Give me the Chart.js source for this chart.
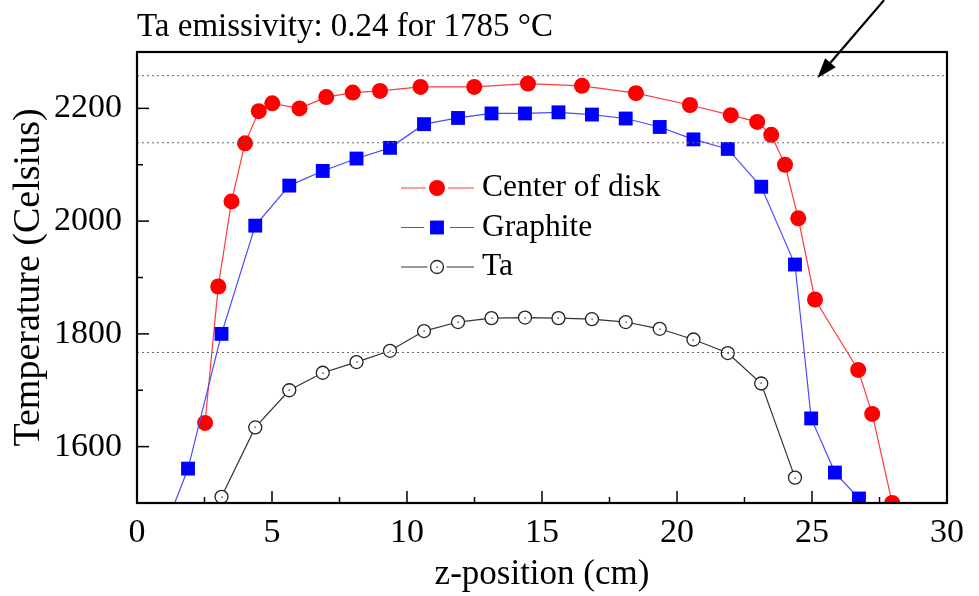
<!DOCTYPE html>
<html>
<head>
<meta charset="utf-8">
<script src="https://cdn.jsdelivr.net/npm/chart.js@4.4.1/dist/chart.umd.min.js"></script>
<style>
  html, body { margin: 0; padding: 0; background: #ffffff; }
  #wrap { width: 979px; height: 596px; }
</style>
</head>
<body>
<div id="wrap"><canvas id="c" width="979" height="596"></canvas></div>
<script>
// ---------------- data ----------------
const chartTitle = 'Ta emissivity: 0.24 for 1785 \u00B0C';
const xTitle = 'z-position (cm)';
const yTitle = 'Temperature (Celsius)';
const seriesLabels = ['Center of disk', 'Graphite', 'Ta'];

const centerX = [2.52, 3.01, 3.50, 4.00, 4.51, 5.01, 6.02, 7.01, 7.99, 9.00, 10.50, 12.49, 14.48,
                 16.48, 18.48, 20.48, 21.99, 22.97, 23.49, 24.00, 24.49, 25.11, 26.71, 27.23, 27.97];
const centerY = [1642, 1884, 2035, 2138, 2195, 2209, 2200, 2220, 2228, 2231, 2238, 2238, 2244,
                 2240, 2227, 2206, 2188, 2176, 2153, 2100, 2005, 1861, 1736, 1658, 1500];

const graphiteX = [1.00, 1.89, 3.13, 4.38, 5.64, 6.88, 8.13, 9.37, 10.63, 11.89, 13.13, 14.37,
                   15.61, 16.85, 18.10, 19.36, 20.61, 21.88, 23.12, 24.37, 24.97, 25.85, 26.74];
const graphiteY = [1451, 1561, 1800, 1992, 2063, 2089, 2111, 2130, 2172, 2183, 2191, 2191,
                   2193, 2189, 2182, 2167, 2145, 2128, 2061, 1923, 1650, 1554, 1508];

const taX = [3.13, 4.38, 5.64, 6.88, 8.13, 9.37, 10.63, 11.89, 13.13, 14.37,
             15.61, 16.85, 18.10, 19.36, 20.61, 21.88, 23.12, 24.37];
const taY = [1511, 1634, 1700, 1731, 1750, 1770, 1805, 1821, 1828, 1829,
             1828, 1826, 1821, 1809, 1790, 1766, 1712, 1545];

const refLevels = [2258, 2139, 1767];          // dotted horizontal reference lines
const xRange = [0, 30];
const yRange = [1500, 2300];
const xLabelTicks = [0, 5, 10, 15, 20, 25, 30];
const yLabelTicks = [1600, 1800, 2000, 2200];
const arrowFrom = [27.67, 2392];                // annotation arrow (data units)
const arrowTo = [25.20, 2254];

// ---------------- chart ----------------
const FONT = "'Liberation Serif', 'Times New Roman', serif";
Chart.defaults.font.family = FONT;
Chart.defaults.color = '#000';

const pts = (xs, ys) => xs.map((x, i) => ({x: x, y: ys[i]}));

const datasets = [
  {label: seriesLabels[0], data: pts(centerX, centerY), borderColor: '#ff3b3b', borderWidth: 1.2,
   pointStyle: 'circle', pointRadius: 8, pointBackgroundColor: '#ff0000', pointBorderColor: '#ff0000', pointBorderWidth: 0},
  {label: seriesLabels[1], data: pts(graphiteX, graphiteY), borderColor: '#4a4aff', borderWidth: 1.2,
   pointStyle: 'rect', pointRadius: 9.8, pointBackgroundColor: '#0000ff', pointBorderColor: '#0000ff', pointBorderWidth: 0},
  {label: seriesLabels[2], data: pts(taX, taY), borderColor: '#333333', borderWidth: 1.2,
   pointStyle: 'circle', pointRadius: 6.5, pointBackgroundColor: '#ffffff', pointBorderColor: '#222222', pointBorderWidth: 1.3}
];
refLevels.forEach(v => datasets.push({
  label: '', data: [{x: xRange[0], y: v}, {x: xRange[1], y: v}], borderColor: '#666', borderWidth: 1,
  borderDash: [2, 3], pointRadius: 0, isRef: true
}));
datasets.reverse(); // draw series on top of reference lines

const LEG = {x0: 401, x1: 474, xm: 437, gap: 11, xt: 482, y0: 188, dy: 39.5};

const axesPlugin = {
  id: 'axesPlugin',
  afterDatasetsDraw(chart) {
    const {ctx, chartArea: a, scales} = chart;
    // dots inside Ta markers
    chart.data.datasets.forEach((ds, i) => {
      if (ds.label !== seriesLabels[2]) return;
      const meta = chart.getDatasetMeta(i);
      ctx.save();
      ctx.fillStyle = '#000';
      meta.data.forEach(p => { if (p.y <= a.bottom) ctx.fillRect(Math.round(p.x) - 0.5, Math.round(p.y) - 0.5, 1.2, 1.2); });
      ctx.restore();
    });
    ctx.save();
    ctx.strokeStyle = '#000';
    ctx.lineWidth = 1.5;
    scales.x.ticks.forEach(t => {
      if (t.value === xRange[0] || t.value === xRange[1]) return;
      const px = scales.x.getPixelForValue(t.value);
      const len = xLabelTicks.includes(t.value) ? 12 : 6;
      ctx.beginPath(); ctx.moveTo(px, a.bottom); ctx.lineTo(px, a.bottom - len); ctx.stroke();
    });
    scales.y.ticks.forEach(t => {
      if (t.value === yRange[0] || t.value === yRange[1]) return;
      const py = scales.y.getPixelForValue(t.value);
      const len = yLabelTicks.includes(t.value) ? 12 : 6;
      ctx.beginPath(); ctx.moveTo(a.left, py); ctx.lineTo(a.left + len, py); ctx.stroke();
    });
    ctx.lineWidth = 2.2;
    ctx.strokeRect(a.left, a.top, a.right - a.left, a.bottom - a.top);
    ctx.restore();
  },
  afterDraw(chart) {
    const {ctx, scales} = chart;
    const series = seriesLabels.map(l => chart.data.datasets.find(d => d.label === l));
    ctx.save();
    series.forEach((ds, i) => {
      const y = LEG.y0 + i * LEG.dy;
      const g = ds.pointRadius + 3;
      ctx.strokeStyle = ds.borderColor; ctx.lineWidth = 1.2;
      ctx.beginPath();
      ctx.moveTo(LEG.x0, y); ctx.lineTo(LEG.xm - g, y);
      ctx.moveTo(LEG.xm + g, y); ctx.lineTo(LEG.x1, y);
      ctx.stroke();
      ctx.fillStyle = ds.pointBackgroundColor;
      ctx.strokeStyle = ds.pointBorderColor;
      ctx.lineWidth = ds.pointBorderWidth;
      ctx.beginPath();
      if (ds.pointStyle === 'rect') {
        const s = Math.SQRT1_2 * ds.pointRadius;
        ctx.rect(LEG.xm - s, y - s, 2 * s, 2 * s);
      } else {
        ctx.arc(LEG.xm, y, ds.pointRadius, 0, Math.PI * 2);
      }
      ctx.fill();
      if (ds.pointBorderWidth > 0) ctx.stroke();
      if (i === 2) { ctx.fillStyle = '#000'; ctx.fillRect(LEG.xm - 0.5, y - 0.5, 1.2, 1.2); }
      ctx.fillStyle = '#000';
      ctx.font = '31.5px ' + FONT;
      ctx.textAlign = 'left'; ctx.textBaseline = 'middle';
      ctx.fillText(ds.label, LEG.xt, y);
    });
    // arrow
    const x1 = scales.x.getPixelForValue(arrowFrom[0]), y1 = scales.y.getPixelForValue(arrowFrom[1]);
    const x2 = scales.x.getPixelForValue(arrowTo[0]), y2 = scales.y.getPixelForValue(arrowTo[1]);
    const ang = Math.atan2(y2 - y1, x2 - x1);
    const hl = 20, hw = 7;
    const bx = x2 - hl * Math.cos(ang), by = y2 - hl * Math.sin(ang);
    ctx.strokeStyle = '#000'; ctx.fillStyle = '#000'; ctx.lineWidth = 2.2;
    ctx.beginPath(); ctx.moveTo(x1, y1); ctx.lineTo(bx, by); ctx.stroke();
    ctx.beginPath();
    ctx.moveTo(x2, y2);
    ctx.lineTo(bx + hw * Math.sin(ang), by - hw * Math.cos(ang));
    ctx.lineTo(bx - hw * Math.sin(ang), by + hw * Math.cos(ang));
    ctx.closePath(); ctx.fill();
    ctx.restore();
  }
};

new Chart(document.getElementById('c'), {
  type: 'line',
  data: {datasets: datasets},
  plugins: [axesPlugin],
  options: {
    responsive: false,
    devicePixelRatio: 1,
    animation: false,
    layout: {padding: {left: 0, right: 32, top: 0, bottom: 0}},
    elements: {line: {tension: 0}},
    plugins: {
      legend: {display: false},
      tooltip: {enabled: false},
      title: {
        display: true, text: chartTitle, align: 'start', fullSize: false,
        color: '#000', font: {size: 33, weight: 'normal', family: FONT},
        padding: {top: 8, bottom: 4.4}
      }
    },
    scales: {
      x: {
        type: 'linear', min: xRange[0], max: xRange[1],
        afterFit: s => { s.height = 93; },
        grid: {display: false, drawTicks: false},
        border: {display: false},
        ticks: {
          stepSize: 2.5, autoSkip: false, maxRotation: 0, padding: 10,
          color: '#000', font: {size: 34, family: FONT},
          callback: v => xLabelTicks.includes(v) ? String(v) : ''
        },
        title: {display: true, text: xTitle, color: '#000', font: {size: 35, family: FONT}, padding: {top: 0, bottom: 0}}
      },
      y: {
        type: 'linear', min: yRange[0], max: yRange[1],
        afterFit: s => { s.width = 137; },
        grid: {display: false, drawTicks: false},
        border: {display: false},
        ticks: {
          stepSize: 100, autoSkip: false, padding: 15,
          color: '#000', font: {size: 34, family: FONT},
          callback: v => yLabelTicks.includes(v) ? String(v) : ''
        },
        title: {display: true, text: yTitle, color: '#000', font: {size: 38, family: FONT}, padding: {top: 6, bottom: 0}}
      }
    }
  }
});
</script>
</body>
</html>
